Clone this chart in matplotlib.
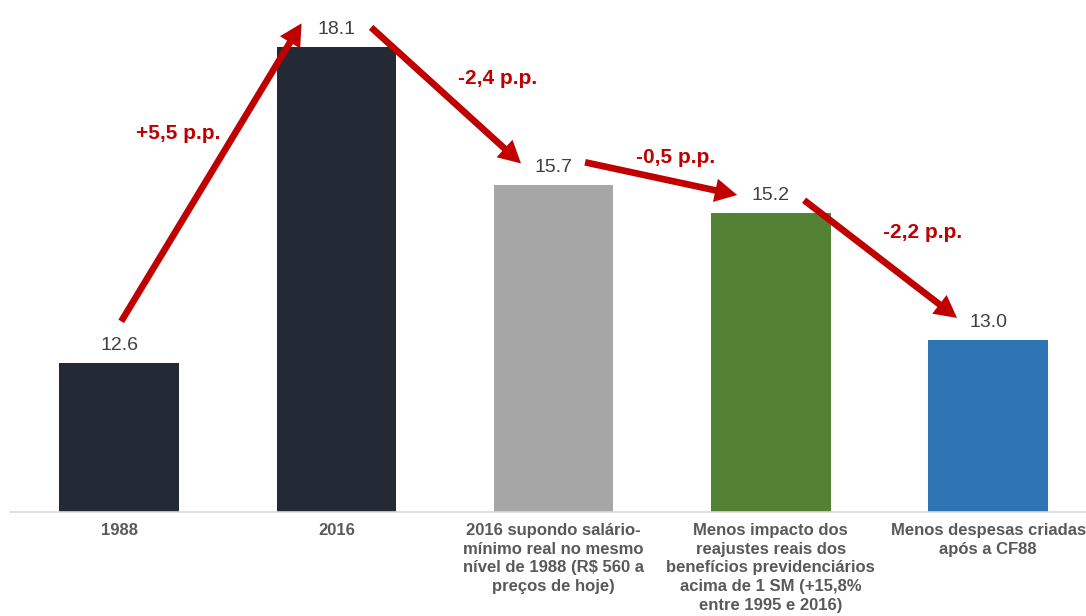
import matplotlib.pyplot as plt
import numpy as np

# dados do gráfico
categorias = ['1988', '2016',
              '2016 supondo salário-\nmínimo real no mesmo\nnível de 1988 (R$ 560 a\npreços de hoje)',
              'Menos impacto dos\nreajustes reais dos\nbenefícios previdenciários\nacima de 1 SM (+15,8%\nentre 1995 e 2016)',
              'Menos despesas criadas\napós a CF88']
valores = [12.6, 18.1, 15.7, 15.2, 13.0]
cores = ['#232a35', '#232a35', '#a6a6a6', '#548235', '#2e75b6']

# posição dos textos de variação (x, y em dados)
pos_variacao = [(0.27, 16.6), (1.74, 17.55), (2.56, 16.18), (3.70, 14.87)]
# deslocamentos das setas: (dx início, dy início, dx fim, dy fim)
ajustes_setas = [(0.01, 0.72, -0.16, 0.41),
                 (0.16, 0.34, -0.15, 0.37),
                 (0.145, 0.39, -0.155, 0.32),
                 (0.153, 0.23, -0.143, 0.38)]

plt.rcParams['font.family'] = ['Liberation Sans', 'DejaVu Sans']

fig = plt.figure(figsize=(10.86, 6.16), dpi=100)
ax = fig.add_axes([0.0096, 0.1688, 1.0003, 0.839])

x = np.arange(len(categorias))
ax.bar(x, valores, width=0.55, color=cores, zorder=2, bottom=0)
ax.set_ylim(10, 19)
ax.set_xlim(-0.5, 4.5)

# rótulos de valor
for xi, v in zip(x, valores):
    ax.annotate(f'{v:.1f}', (xi, v), xytext=(0, 6.5), textcoords='offset points',
                ha='center', va='bottom', fontsize=14, color='#404040')

# setas e variações
vermelho = '#c00000'
for i in range(len(valores) - 1):
    dx0, dy0, dx1, dy1 = ajustes_setas[i]
    ax.annotate('', xy=(x[i + 1] + dx1, valores[i + 1] + dy1),
                xytext=(x[i] + dx0, valores[i] + dy0),
                arrowprops=dict(arrowstyle='simple,head_length=16,head_width=17,tail_width=4.8',
                                mutation_scale=1, color=vermelho, lw=0,
                                shrinkA=0, shrinkB=0), zorder=4)
    delta = valores[i + 1] - valores[i]
    txt = f'{delta:+.1f}'.replace('.', ',') + ' p.p.'
    px, py = pos_variacao[i]
    ax.text(px, py, txt, ha='center', va='center', fontsize=15,
            fontweight='bold', color=vermelho)

ax.set_xticks(x)
ax.set_xticklabels(categorias, fontsize=12, fontweight='bold', color='#595959',
                   linespacing=1.3, va='top')
ax.tick_params(axis='x', length=0, pad=8)
ax.set_yticks([])

for s in ['top', 'right', 'left']:
    ax.spines[s].set_visible(False)
ax.spines['bottom'].set_color('#d9d9d9')
ax.spines['bottom'].set_linewidth(1.2)

plt.savefig('out.png', dpi=100)
plt.close()
